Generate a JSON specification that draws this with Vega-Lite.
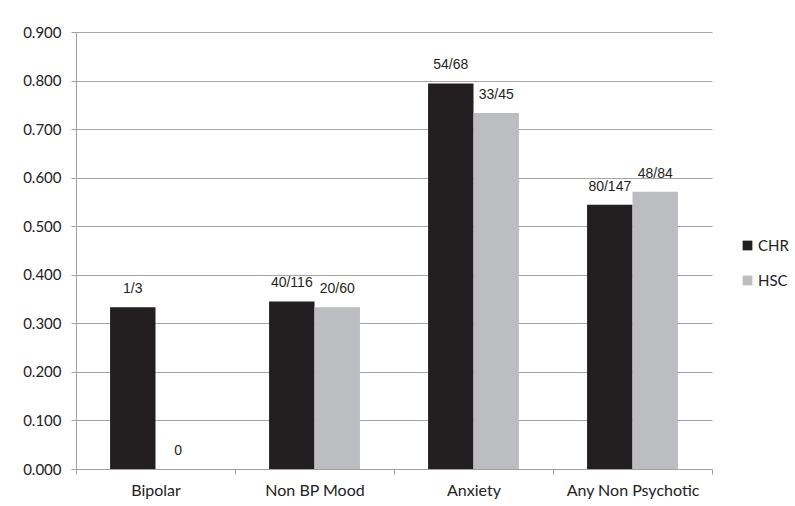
{
  "$schema": "https://vega.github.io/schema/vega-lite/v6.json",
  "width": 636,
  "height": 437,
  "autosize": {"type": "none"},
  "padding": {"left": 76, "top": 32, "right": 83, "bottom": 37},
  "background": "white",
  "data": {
    "values": [
      {"category": "Bipolar", "group": "CHR", "value": 0.333, "label": "1/3"},
      {"category": "Bipolar", "group": "HSC", "value": 0, "label": "0"},
      {"category": "Non BP Mood", "group": "CHR", "value": 0.345, "label": "40/116"},
      {"category": "Non BP Mood", "group": "HSC", "value": 0.333, "label": "20/60"},
      {"category": "Anxiety", "group": "CHR", "value": 0.794, "label": "54/68"},
      {"category": "Anxiety", "group": "HSC", "value": 0.733, "label": "33/45"},
      {"category": "Any Non Psychotic", "group": "CHR", "value": 0.544, "label": "80/147"},
      {"category": "Any Non Psychotic", "group": "HSC", "value": 0.571, "label": "48/84"}
    ]
  },
  "encoding": {
    "x": {
      "field": "category",
      "type": "nominal",
      "sort": ["Bipolar", "Non BP Mood", "Anxiety", "Any Non Psychotic"],
      "scale": {"paddingInner": 0, "paddingOuter": 0},
      "axis": {
        "title": null,
        "labelAngle": 0,
        "tickBand": "extent",
        "tickSize": 5,
        "tickColor": "#a0a0a0",
        "domainColor": "#a0a0a0",
        "labelFont": "Lato",
        "labelFontSize": 16,
        "labelColor": "#222222",
        "labelPadding": 8,
        "grid": false
      }
    },
    "xOffset": {
      "field": "group",
      "type": "nominal",
      "scale": {"paddingInner": 0, "paddingOuter": 0.75}
    },
    "y": {
      "field": "value",
      "type": "quantitative",
      "scale": {"domain": [0, 0.9], "nice": false},
      "axis": {
        "title": null,
        "values": [0, 0.1, 0.2, 0.3, 0.4, 0.5, 0.6, 0.7, 0.8, 0.9],
        "format": ".3f",
        "tickSize": 5,
        "tickColor": "#a0a0a0",
        "domainColor": "#a0a0a0",
        "gridColor": "#a6a6a6",
        "grid": true,
        "labelFont": "Lato",
        "labelFontSize": 15,
        "labelColor": "#222222",
        "labelPadding": 10
      }
    }
  },
  "layer": [
    {
      "mark": {"type": "bar"},
      "encoding": {
        "color": {
          "field": "group",
          "type": "nominal",
          "scale": {"domain": ["CHR", "HSC"], "range": ["#231f20", "#bcbdc0"]},
          "legend": {
            "title": null,
            "orient": "none",
            "legendX": 664,
            "legendY": 206,
            "padding": 0,
            "symbolType": "square",
            "symbolSize": 95,
            "symbolStrokeWidth": 0,
            "labelFont": "Lato",
            "labelFontSize": 15,
            "labelColor": "#222222",
            "labelOffset": 3,
            "labelLimit": 60,
            "rowPadding": 19
          }
        }
      }
    },
    {
      "mark": {
        "type": "text",
        "baseline": "bottom",
        "dy": -11,
        "font": "Liberation Sans",
        "fontSize": 14,
        "color": "#231f20"
      },
      "encoding": {"text": {"field": "label"}}
    }
  ],
  "config": {"view": {"stroke": null}}
}
